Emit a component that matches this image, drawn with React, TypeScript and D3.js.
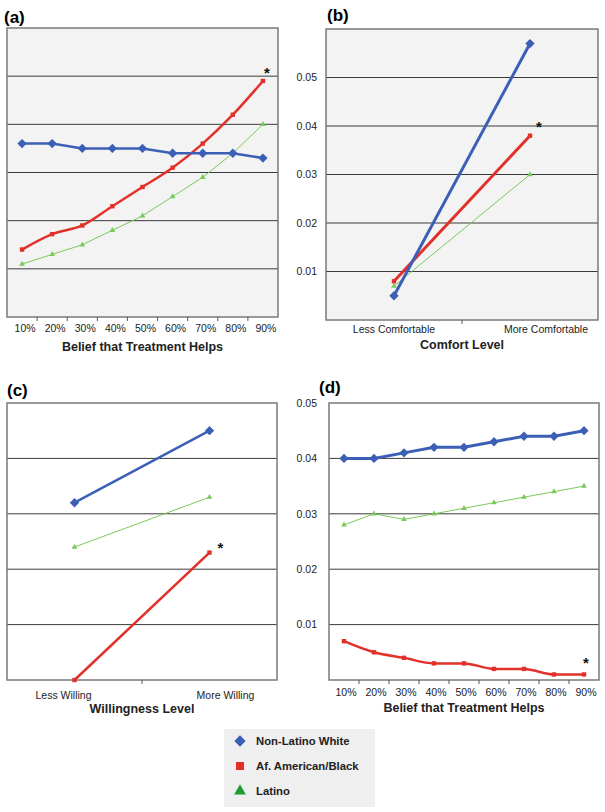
import React from "react";
import * as d3 from "d3";

const beliefCats = ["10%", "20%", "30%", "40%", "50%", "60%", "70%", "80%", "90%"];
const comfortCats = ["Less Comfortable", "More Comfortable"];
const willCats = ["Less Willing", "More Willing"];

const aWhite = [0.036, 0.036, 0.035, 0.035, 0.035, 0.034, 0.034, 0.034, 0.033];
const aBlack = [0.014, 0.0172, 0.019, 0.023, 0.027, 0.031, 0.036, 0.042, 0.049];
const aLatino = [0.011, 0.013, 0.015, 0.018, 0.021, 0.025, 0.029, 0.034, 0.04];

const bWhite = [0.005, 0.057];
const bBlack = [0.008, 0.038];
const bLatino = [0.007, 0.03];

const cWhite = [0.032, 0.045];
const cBlack = [0.0, 0.023];
const cLatino = [0.024, 0.033];

const dWhite = [0.04, 0.04, 0.041, 0.042, 0.042, 0.043, 0.044, 0.044, 0.045];
const dBlack = [0.007, 0.005, 0.004, 0.003, 0.003, 0.002, 0.002, 0.001, 0.001];
const dLatino = [0.028, 0.03, 0.029, 0.03, 0.031, 0.032, 0.033, 0.034, 0.035];

const gridTop = [0.01, 0.02, 0.03, 0.04, 0.05];
const gridBottom = [0.01, 0.02, 0.03, 0.04];
const tickLabels = ["0.01", "0.02", "0.03", "0.04", "0.05"];

const seriesNames = ["Non-Latino White", "Af. American/Black", "Latino"];

const BLUE = "#3c5fb6";
const RED = "#e2312a";
const GREEN = "#7bc95c";
const GREEN_DARK = "#1e9a35";
const FONT = "'Liberation Sans', Arial, Helvetica, sans-serif";

type PanelProps = {
  label: string;
  lx: number; ly: number;
  x0: number; x1: number; y0: number; y1: number;
  yMax: number;
  grid: number[];
  showY: boolean;
  yGap: number;
  cats: string[];
  white: number[]; black: number[]; latino: number[];
  fill: string;
  title: string;
  tickBase: number; titleBase: number;
  labelDx: number[];
  ticksAll: boolean;
  curved: boolean;
  star: [number, number];
  wWidth: number; rWidth: number;
};

function Panel(p: PanelProps) {
  const x = d3.scaleBand<string>().domain(p.cats).range([p.x0, p.x1]).padding(0);
  const y = d3.scaleLinear().domain([0, p.yMax]).range([p.y1, p.y0]);
  const cx = (i: number) => (x(p.cats[i]) as number) + x.bandwidth() / 2;
  const mk = (vals: number[], curve: any) =>
    d3.line<number>().x((_, i) => cx(i)).y((v) => y(v)).curve(curve)(vals) || "";
  const tickXs = p.ticksAll
    ? p.cats.slice(1).map((c) => x(c) as number)
    : [(p.x0 + p.x1) / 2];
  const lastI = p.cats.length - 1;
  const tri = d3.symbol().type(d3.symbolTriangle).size(14)() || "";
  return (
    <g>
      <text x={p.lx} y={p.ly} fontFamily={FONT} fontWeight="bold" fontSize={17}>{p.label}</text>
      <rect x={p.x0} y={p.y0} width={p.x1 - p.x0} height={p.y1 - p.y0} fill={p.fill} stroke="none" />
      {p.grid.map((g) => (
        <line key={g} x1={p.x0} x2={p.x1} y1={y(g)} y2={y(g)} stroke="#3a3a3a" strokeWidth={1} />
      ))}
      <rect x={p.x0} y={p.y0} width={p.x1 - p.x0} height={p.y1 - p.y0} fill="none" stroke="#7a7a7a" strokeWidth={1.5} />
      {tickXs.map((t, i) => (
        <line key={i} x1={t} x2={t} y1={p.y1} y2={p.y1 + 4} stroke="#555" strokeWidth={1} />
      ))}
      {p.showY &&
        gridTop.map((g, i) => (
          <text key={g} x={p.x0 - p.yGap} y={y(g) + 3.7} textAnchor="end" fontFamily={FONT} fontSize={10.5} fill="#222">
            {tickLabels[i]}
          </text>
        ))}
      {p.cats.map((c, i) => (
        <text key={c} x={cx(i) + p.labelDx[i]} y={p.tickBase} textAnchor="middle" fontFamily={FONT} fontSize={10.5} fill="#222">
          {c}
        </text>
      ))}
      <text x={(p.x0 + p.x1) / 2} y={p.titleBase} textAnchor="middle" fontFamily={FONT} fontWeight="bold" fontSize={12.5} fill="#222">
        {p.title}
      </text>
      <path d={mk(p.latino, d3.curveLinear)} fill="none" stroke={GREEN} strokeWidth={1} />
      {p.latino.map((v, i) => (
        <path key={i} d={tri} transform={`translate(${cx(i)},${y(v)})`} fill={GREEN} />
      ))}
      <path d={mk(p.black, p.curved ? d3.curveMonotoneX : d3.curveLinear)} fill="none" stroke={RED} strokeWidth={p.rWidth} />
      {p.black.map((v, i) => (
        <rect key={i} x={cx(i) - 2.2} y={y(v) - 2.2} width={4.4} height={4.4} fill={RED} />
      ))}
      <path d={mk(p.white, d3.curveLinear)} fill="none" stroke={BLUE} strokeWidth={p.wWidth} />
      {p.white.map((v, i) => (
        <rect key={i} x={-3.3} y={-3.3} width={6.6} height={6.6} fill={BLUE} transform={`translate(${cx(i)},${y(v)}) rotate(45)`} />
      ))}
      <text x={cx(lastI) + p.star[0]} y={y(p.black[lastI]) + p.star[1]} textAnchor="middle" fontFamily={FONT} fontWeight="bold" fontSize={15} fill="#111">*</text>
    </g>
  );
}

export default function App() {
  const legendTri = d3.symbol().type(d3.symbolTriangle).size(60)() || "";
  return (
    <div style={{ position: "absolute", left: 0, top: 0 }}>
      <svg width={605} height={812} style={{ display: "block", background: "#fff" }}>
        <Panel label="(a)" lx={4} ly={23} x0={7} x1={278} y0={28} y1={317} yMax={0.06} grid={gridTop} showY={false} yGap={9}
          cats={beliefCats} white={aWhite} black={aBlack} latino={aLatino} fill="#f3f3f3"
          title="Belief that Treatment Helps" tickBase={332} titleBase={351} labelDx={[3, 3, 3, 3, 3, 3, 3, 3, 3]}
          ticksAll={true} curved={true} star={[4, -3]} wWidth={2.5} rWidth={2.5} />
        <Panel label="(b)" lx={327} ly={21} x0={326} x1={598} y0={29} y1={320} yMax={0.06} grid={gridTop} showY={true} yGap={9}
          cats={comfortCats} white={bWhite} black={bBlack} latino={bLatino} fill="#f3f3f3"
          title="Comfort Level" tickBase={333} titleBase={349} labelDx={[0, 16]}
          ticksAll={false} curved={false} star={[9, -4]} wWidth={3} rWidth={3} />
        <Panel label="(c)" lx={7} ly={396} x0={7} x1={277} y0={403} y1={680} yMax={0.05} grid={gridBottom} showY={false} yGap={9}
          cats={willCats} white={cWhite} black={cBlack} latino={cLatino} fill="#ffffff"
          title="Willingness Level" tickBase={699} titleBase={713} labelDx={[-11, 16]}
          ticksAll={false} curved={false} star={[11, 0]} wWidth={2.5} rWidth={2.5} />
        <Panel label="(d)" lx={319} ly={393} x0={329} x1={599} y0={403} y1={680} yMax={0.05} grid={gridBottom} showY={true} yGap={12}
          cats={beliefCats} white={dWhite} black={dBlack} latino={dLatino} fill="#ffffff"
          title="Belief that Treatment Helps" tickBase={696} titleBase={712} labelDx={[2, 2, 2, 2, 2, 2, 2, 2, 2]}
          ticksAll={true} curved={true} star={[2, -6]} wWidth={3} rWidth={2.5} />
        <g>
          <rect x={224} y={729} width={151} height={78} fill="#efefef" />
          {seriesNames.map((n, i) => {
            const yy = 741 + i * 25;
            return (
              <g key={n}>
                {i === 0 && <rect x={-4} y={-4} width={8} height={8} fill={BLUE} transform={`translate(240,${yy}) rotate(45)`} />}
                {i === 1 && <rect x={236} y={yy - 4} width={8} height={8} fill={RED} />}
                {i === 2 && <path d={legendTri} transform={`translate(240,${yy})`} fill={GREEN_DARK} />}
                <text x={256} y={yy + 4} fontFamily={FONT} fontWeight="bold" fontSize={11.3} fill="#222">{n}</text>
              </g>
            );
          })}
        </g>
      </svg>
    </div>
  );
}
